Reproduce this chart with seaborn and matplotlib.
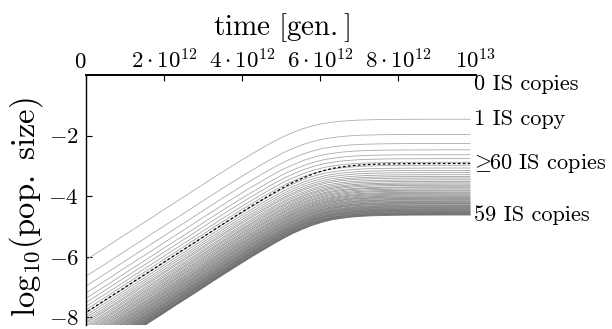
import numpy as np
import pandas as pd
import matplotlib
matplotlib.use("Agg")
import matplotlib.pyplot as plt
import seaborn as sns

# ---------------- data ----------------
# shared growth profile of the "1 IS copy" class: log10 offset from its plateau
profile_t = [-0.5, 0.0, 0.5, 1.0, 1.5, 2.0, 2.5, 3.0, 3.5, 4.0, 4.25, 4.5, 4.75,
             5.0, 5.25, 5.5, 5.75, 6.0, 6.25, 6.5, 6.75, 7.0, 7.5, 8.0, 9.0]   # x 1e12 gen.
profile_offset = [-5.06, -4.64, -4.23, -3.81, -3.40, -2.98, -2.57, -2.15, -1.74, -1.34,
                  -1.15, -0.96, -0.78, -0.61, -0.47, -0.34, -0.24, -0.16, -0.11, -0.07,
                  -0.045, -0.028, -0.011, -0.004, 0.0]

# IS copy classes 1..59: final log10 population size (plateau)
copies = list(range(1, 60))
plateau = [-1.46, -1.96, -2.26, -2.47, -2.63, -2.76, -2.88, -2.98, -3.07, -3.15,
           -3.22, -3.29, -3.35, -3.40, -3.46, -3.51, -3.56, -3.60, -3.64, -3.69,
           -3.72, -3.76, -3.80, -3.83, -3.87, -3.90, -3.93, -3.96, -3.99, -4.02,
           -4.04, -4.07, -4.10, -4.12, -4.15, -4.17, -4.20, -4.22, -4.24, -4.26,
           -4.29, -4.31, -4.33, -4.35, -4.37, -4.39, -4.41, -4.43, -4.45, -4.46,
           -4.48, -4.50, -4.52, -4.54, -4.55, -4.57, -4.59, -4.60, -4.62]
# delay of each class relative to the 1-copy curve (x 1e12 gen.)
delay = [0.00, 0.05, 0.08, 0.10, 0.12, 0.13, 0.14, 0.15, 0.16, 0.17,
         0.18, 0.18, 0.19, 0.19, 0.20, 0.20, 0.21, 0.21, 0.22, 0.22,
         0.22, 0.23, 0.23, 0.23, 0.24, 0.24, 0.24, 0.25, 0.25, 0.25,
         0.25, 0.26, 0.26, 0.26, 0.26, 0.26, 0.27, 0.27, 0.27, 0.27,
         0.27, 0.28, 0.28, 0.28, 0.28, 0.28, 0.28, 0.29, 0.29, 0.29,
         0.29, 0.29, 0.29, 0.29, 0.30, 0.30, 0.30, 0.30, 0.30]

# ">=60 IS copies" class (dashed)
dash_plateau = -2.92
dash_delay = 0.33
zero_copy_level = 0.0
line_end = 9.85  # x 1e12 gen.

x_ticks = [0, 2e12, 4e12, 6e12, 8e12, 1e13]
x_ticklabels = ["$0$", r"$2\cdot10^{12}$", r"$4\cdot10^{12}$", r"$6\cdot10^{12}$",
                r"$8\cdot10^{12}$", r"$10^{13}$"]
y_ticks = [-2, -4, -6, -8]
y_ticklabels = ["$-2$", "$-4$", "$-6$", "$-8$"]

# ---------------- build tables ----------------
def curve(plat, dly):
    t = [tt + dly for tt in profile_t if tt + dly < line_end]
    v = [plat + o for tt, o in zip(profile_t, profile_offset) if tt + dly < line_end]
    t.append(line_end)
    v.append(plat)
    return t, v

rows = []
for n, p, d in zip(copies, plateau, delay):
    t, v = curve(p, d)
    for tt, vv in zip(t, v):
        rows.append({"time": tt * 1e12, "level": vv, "copies": n})
df = pd.DataFrame(rows)

t, v = curve(dash_plateau, dash_delay)
df_dash = pd.DataFrame({"time": np.array(t) * 1e12, "level": v})

# ---------------- style ----------------
sns.set_theme(style="white")
plt.rcParams.update({
    "font.family": "serif",
    "font.serif": ["cmr10", "DejaVu Serif"],
    "mathtext.fontset": "cm",
    "axes.formatter.use_mathtext": True,
    "axes.unicode_minus": False,
})

W, H = 612, 329
fig = plt.figure(figsize=(W / 100, H / 100), dpi=100)
ax = fig.add_axes([86 / W, 1 - 325 / H, (476 - 86) / W, (325 - 75) / H])

grays = np.linspace(0.68, 0.42, len(copies))
pal = {n: (g, g, g) for n, g in zip(copies, grays)}

sns.lineplot(data=df, x="time", y="level", hue="copies", palette=pal,
             estimator=None, sort=False, legend=False, lw=0.6, ax=ax)
sns.lineplot(data=df_dash, x="time", y="level", color="black", lw=0.9,
             linestyle=(0, (2.2, 1.8)), estimator=None, sort=False, ax=ax)

ax.set_xlim(0, 1e13)
ax.set_ylim(-8.25, 0)

ax.xaxis.tick_top()
ax.xaxis.set_label_position("top")
ax.set_xticks(x_ticks)
ax.set_xticklabels(x_ticklabels)
ax.set_yticks(y_ticks)
ax.set_yticklabels(y_ticklabels)
ax.tick_params(axis="x", top=True, bottom=False, direction="in", length=4,
               width=0.8, pad=2, labelsize=16.5, colors="black")
ax.tick_params(axis="y", left=True, right=False, direction="in", length=4,
               width=0.8, pad=5, labelsize=16.5, colors="black")
ax.get_xticklabels()[0].set_horizontalalignment("right")

for s in ["right", "bottom"]:
    ax.spines[s].set_visible(False)
ax.spines["top"].set_linewidth(1.4)
ax.spines["left"].set_linewidth(1.0)
for s in ["top", "left"]:
    ax.spines[s].set_color("black")

ax.set_xlabel(r"$\mathrm{time\ [gen.]}$", fontsize=21, labelpad=9, color="black")
ax.set_ylabel(r"$\mathrm{log}_{10}\mathrm{(pop.\ size)}$", fontsize=23.5, color="black")
ax.yaxis.set_label_coords(-0.105, 0.47)

labels = ["0 IS copies", "1 IS copy", r"$\!\geq\!\!$60 IS copies", "59 IS copies"]
label_y = [zero_copy_level - 0.3, plateau[0], dash_plateau, plateau[-1]]
for txt, yy in zip(labels, label_y):
    ax.text(0.995e13, yy, txt, ha="left", va="center", fontsize=16, color="black",
            clip_on=False)

fig.savefig("out.png", dpi=100)
